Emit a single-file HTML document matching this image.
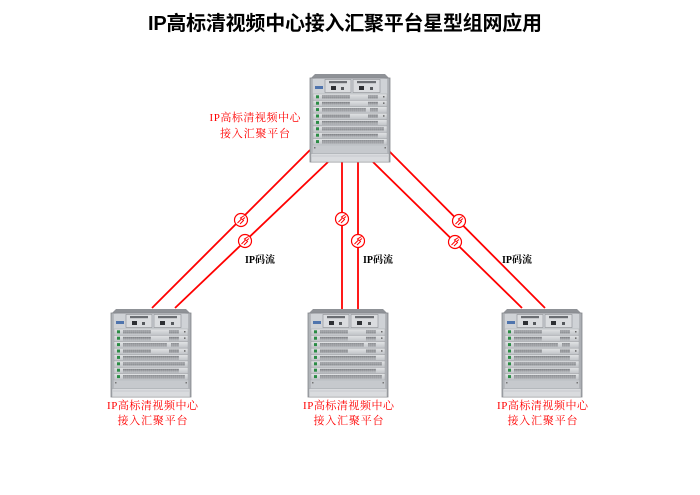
<!DOCTYPE html>
<html><head><meta charset="utf-8"><style>
html,body{margin:0;padding:0;background:#fff;}
svg{display:block;}
</style></head><body>
<svg width="700" height="495" viewBox="0 0 700 495" xmlns="http://www.w3.org/2000/svg">
<defs>
  <linearGradient id="body" x1="0" x2="1" y1="0" y2="0">
    <stop offset="0" stop-color="#a9acb1"/><stop offset="0.08" stop-color="#c9ccd0"/>
    <stop offset="0.92" stop-color="#c9ccd0"/><stop offset="1" stop-color="#a3a6ab"/>
  </linearGradient>
  <linearGradient id="card" x1="0" x2="0" y1="0" y2="1">
    <stop offset="0" stop-color="#e2e4e6"/><stop offset="1" stop-color="#bfc2c6"/>
  </linearGradient>
  <pattern id="ports" width="2" height="3" patternUnits="userSpaceOnUse">
    <rect width="2" height="3" fill="#d2d4d7"/><rect x="0.3" y="0.4" width="1.3" height="1" fill="#505358"/><rect x="0.3" y="1.8" width="1.3" height="1" fill="#5f6267"/>
  </pattern>
  <g id="dev">
    <polygon points="5,0 75,0 80,5 0,5" fill="#8f9297"/>
    <rect x="0" y="4" width="80" height="84" fill="url(#body)" stroke="#85888d" stroke-width="0.8"/>
    <rect x="3" y="5" width="74" height="15" fill="#cfd2d6"/>
    <rect x="15" y="5.5" width="26" height="13" fill="#dadcdf" stroke="#8a8d92" stroke-width="0.6"/>
    <rect x="43" y="5.5" width="27" height="13" fill="#dadcdf" stroke="#8a8d92" stroke-width="0.6"/>
    <rect x="19" y="7" width="18" height="2.2" fill="#6a6d72"/>
    <rect x="47" y="7" width="19" height="2.2" fill="#6a6d72"/>
    <rect x="21" y="12" width="5" height="4" fill="#2d2f33"/>
    <rect x="49" y="12" width="5" height="4" fill="#2d2f33"/>
    <rect x="31" y="13" width="3" height="3" fill="#55585c"/>
    <rect x="60" y="13" width="3" height="3" fill="#55585c"/>
    <rect x="5" y="12" width="8" height="3" fill="#4f74ad"/>
    <g id="card1">
      <rect x="3" y="20" width="74" height="6.3" fill="url(#card)" stroke="#9b9ea2" stroke-width="0.4"/>
      <rect x="6" y="21.3" width="3" height="3" fill="#2b8c45"/>
      <rect x="12" y="21.2" width="28" height="3.6" fill="url(#ports)"/>
      <rect x="58" y="21.2" width="10" height="3.6" fill="url(#ports)"/>
      <rect x="73" y="22" width="1.5" height="1.5" fill="#666"/>
    </g>
    <use href="#card1" y="6.4"/>
    <g transform="translate(0,12.8)">
      <rect x="3" y="20" width="74" height="6.3" fill="url(#card)" stroke="#9b9ea2" stroke-width="0.4"/>
      <rect x="6" y="21.3" width="3" height="3" fill="#2b8c45"/>
      <rect x="12" y="21.2" width="44" height="3.6" fill="url(#ports)"/>
      <rect x="60" y="21.2" width="8" height="3.6" fill="url(#ports)"/>
    </g>
    <use href="#card1" y="19.2"/>
    <g transform="translate(0,25.6)">
      <rect x="3" y="20" width="74" height="6.3" fill="url(#card)" stroke="#9b9ea2" stroke-width="0.4"/>
      <rect x="6" y="21.3" width="3" height="3" fill="#2b8c45"/>
      <rect x="12" y="21.2" width="56" height="3.6" fill="url(#ports)"/>
    </g>
    <g transform="translate(0,32)">
      <rect x="3" y="20" width="74" height="6.3" fill="url(#card)" stroke="#9b9ea2" stroke-width="0.4"/>
      <rect x="6" y="21.3" width="3" height="3" fill="#2b8c45"/>
      <rect x="12" y="21.2" width="62" height="3.6" fill="url(#ports)"/>
    </g>
    <g transform="translate(0,38.4)">
      <rect x="3" y="20" width="74" height="6.3" fill="url(#card)" stroke="#9b9ea2" stroke-width="0.4"/>
      <rect x="6" y="21.3" width="3" height="3" fill="#2b8c45"/>
      <rect x="12" y="21.2" width="56" height="3.6" fill="url(#ports)"/>
    </g>
    <g transform="translate(0,44.8)">
      <rect x="3" y="20" width="74" height="6.3" fill="url(#card)" stroke="#9b9ea2" stroke-width="0.4"/>
      <rect x="6" y="21.3" width="3" height="3" fill="#2b8c45"/>
      <rect x="12" y="21.2" width="62" height="3.6" fill="url(#ports)"/>
    </g>
    <rect x="3" y="71.2" width="74" height="8" fill="#c6c9cd"/>
    <rect x="4" y="73" width="1.5" height="1.5" fill="#777"/>
    <rect x="74.5" y="73" width="1.5" height="1.5" fill="#777"/>
    <rect x="1" y="79.5" width="78" height="8.5" fill="#d9dbde" stroke="#9a9da1" stroke-width="0.5"/>
    <line x1="2" y1="82" x2="78" y2="82" stroke="#b5b8bc" stroke-width="0.6"/>
  </g>
  <g id="ico">
    <circle r="6.5" fill="#fff" stroke="#ff0000" stroke-width="1.2"/>
    <path d="M-3.5,3 L0.5,-1 L-0.5,-2 L3.5,-4.5 M-1,4 L2.5,0.5 L1.5,-0.5 L4,-2.5" fill="none" stroke="#ff0000" stroke-width="1"/>
  </g>
</defs>

<text x="148" y="30" font-family="'Liberation Sans','Noto Sans CJK SC',sans-serif" font-size="20" font-weight="bold" fill="#000" textLength="394">IP高标清视频中心接入汇聚平台星型组网应用</text>

<g stroke="#ff0000" stroke-width="1.8" fill="none">
  <line x1="310" y1="150" x2="152" y2="308"/>
  <line x1="328" y1="162" x2="175" y2="308"/>
  <line x1="342" y1="162" x2="342" y2="310"/>
  <line x1="358" y1="162" x2="358" y2="310"/>
  <line x1="373" y1="162" x2="522" y2="308"/>
  <line x1="388" y1="150" x2="545" y2="308"/>
</g>

<use href="#dev" x="310" y="74"/>
<use href="#dev" x="111" y="309"/>
<use href="#dev" x="308" y="309"/>
<use href="#dev" x="502" y="309"/>

<use href="#ico" x="241" y="220"/>
<use href="#ico" x="245" y="241"/>
<use href="#ico" x="342" y="219"/>
<use href="#ico" x="358" y="241"/>
<use href="#ico" x="459" y="221"/>
<use href="#ico" x="455" y="242"/>

<g font-family="'Liberation Serif','Noto Serif CJK SC',serif" font-size="10" font-weight="bold" fill="#000">
  <text x="245" y="263">IP码流</text>
  <text x="363" y="263">IP码流</text>
  <text x="502" y="263">IP码流</text>
</g>

<g font-family="'Liberation Serif','Noto Serif CJK SC',serif" font-size="11" fill="#ff0000" text-anchor="middle">
  <text x="255" y="121" textLength="91" lengthAdjust="spacing">IP高标清视频中心</text>
  <text x="255" y="137" textLength="70" lengthAdjust="spacing">接入汇聚平台</text>
  <text x="152.5" y="409" textLength="91" lengthAdjust="spacing">IP高标清视频中心</text>
  <text x="152.5" y="424" textLength="70" lengthAdjust="spacing">接入汇聚平台</text>
  <text x="348.5" y="409" textLength="91" lengthAdjust="spacing">IP高标清视频中心</text>
  <text x="348.5" y="424" textLength="70" lengthAdjust="spacing">接入汇聚平台</text>
  <text x="542.5" y="409" textLength="91" lengthAdjust="spacing">IP高标清视频中心</text>
  <text x="542.5" y="424" textLength="70" lengthAdjust="spacing">接入汇聚平台</text>
</g>
</svg>
</body></html>
